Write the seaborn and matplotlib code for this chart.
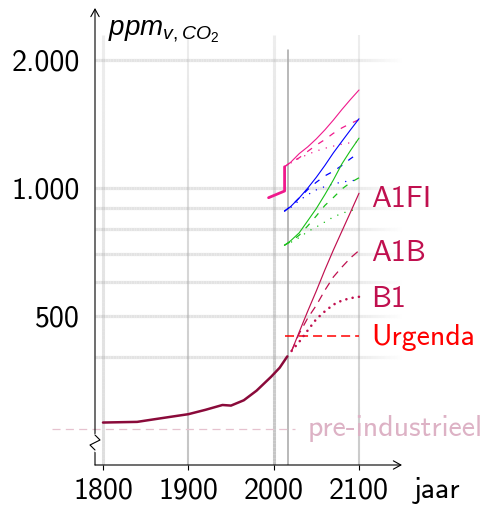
import numpy as np
import matplotlib
matplotlib.use("Agg")
import matplotlib.pyplot as plt
import seaborn as sns
from matplotlib.collections import LineCollection
from matplotlib.colors import to_rgba
from matplotlib.lines import Line2D
from matplotlib.ticker import NullLocator

sns.set_theme(style="white")
plt.rcParams["font.family"] = ["cmss10", "DejaVu Sans"]
plt.rcParams["mathtext.fontset"] = "custom"
plt.rcParams["mathtext.it"] = "Liberation Sans:italic"
plt.rcParams["mathtext.rm"] = "Liberation Sans"
plt.rcParams["lines.scale_dashes"] = False
plt.rcParams["axes.unicode_minus"] = False

# --- measured CO2 concentration (ppm) ---
hist_years = [1800, 1840, 1860, 1880, 1900, 1920, 1940, 1950, 1965, 1980, 1997, 2007, 2016]
hist_ppm = [281, 282, 286, 290, 294, 301, 309, 308, 317, 334, 360, 378, 402]

# --- IPCC SRES scenarios, CO2 only ---
proj_years = [2021, 2030, 2040, 2050, 2060, 2070, 2080, 2090, 2100]
a1fi_ppm = [414, 459, 514, 573, 642, 715, 792, 877, 972]
a1b_ppm = [414, 455, 495, 530, 575, 618, 652, 685, 713]
b1_ppm = [414, 435, 463, 492, 513, 532, 544, 551, 555]

# --- upper bundle (pink, blue, green): same scenarios, other totals ---
pink_hist_years = [1994, 2012.8, 2012.8]
pink_hist_ppm = [949, 984, 1122]

up_years = [2012.8, 2020, 2030, 2040, 2050, 2060, 2070, 2080, 2090, 2100]
pink_a1fi = [1122, 1150, 1205, 1250, 1305, 1370, 1445, 1530, 1615, 1700]
pink_a1b = [1122, 1150, 1178, 1220, 1262, 1300, 1345, 1385, 1418, 1448]
pink_b1 = [1122, 1145, 1175, 1200, 1222, 1240, 1255, 1268, 1278, 1285]

blue_a1fi = [883, 905, 948, 1000, 1060, 1130, 1210, 1288, 1370, 1455]
blue_a1b = [883, 905, 948, 992, 1032, 1068, 1095, 1130, 1172, 1210]
blue_b1 = [883, 900, 935, 965, 990, 1008, 1022, 1033, 1040, 1045]

green_a1fi = [734, 752, 785, 838, 895, 965, 1045, 1140, 1225, 1310]
green_a1b = [734, 748, 775, 815, 860, 910, 950, 995, 1030, 1057]
green_b1 = [734, 745, 765, 790, 810, 832, 855, 872, 885, 893]

# --- reference levels ---
urgenda_years = [2012.8, 2100]
urgenda_ppm = [450, 450]
preind_years = [1740, 2025]
preind_ppm = [272, 272]
now_year = 2016.7

y_ticks = [500, 1000, 2000]
y_ticklabels = ["500", "1.000", "2.000"]
x_ticks = [1800, 1900, 2000, 2100]
grid_levels = [400, 500, 600, 700, 800, 900, 1000, 2000]

CRIMSON = "#c0104f"
HIST = "#8a0a3a"
PINK = "#f0198c"
BLUE = "#0000ff"
GREEN = "#18c018"
RED = "#ff0000"
PREIND = "#e6c2cf"
PREIND_TXT = "#ddb2c5"
FS = 21.5

fig = plt.figure(figsize=(4.9, 5.05), dpi=100)
ax = fig.add_axes([95 / 490, 40 / 505, 307 / 490, 457 / 505])
ax.set_yscale("log")
XMIN, XMAX = 1790.625, 2150.39
YMIN, YMAX = 223.3, 2650
ax.set_xlim(XMIN, XMAX)
ax.set_ylim(YMIN, YMAX)
for s in ax.spines.values():
    s.set_visible(False)


def gradient_line(xs, ys, color, lw, alphas, z=0.5):
    pts = np.column_stack([xs, ys])
    segs = np.stack([pts[:-1], pts[1:]], axis=1)
    rgb = to_rgba(color)[:3]
    a = 0.5 * (np.asarray(alphas)[:-1] + np.asarray(alphas)[1:])
    cols = [(*rgb, float(v)) for v in a]
    ax.add_collection(LineCollection(segs, colors=cols, linewidths=lw,
                                     zorder=z, capstyle="butt"))


# horizontal grid, fading out to the right
gx = np.linspace(XMIN, 2150, 120)
galpha = np.clip((2150 - gx) / (2150 - 2080), 0, 1)
for lvl in grid_levels:
    gradient_line(gx, np.full_like(gx, lvl, dtype=float), "#e3e3e3", 2.3, galpha)

# vertical grid, fading out towards the top
vy = np.geomspace(YMIN, 2290, 120)
vt = np.linspace(0, 1, 120)
for yr, lw, a0 in [(1800, 2.2, 0.35), (1900, 1.5, 0.62), (2000, 2.2, 0.62), (2100, 1.5, 0.55)]:
    gradient_line(np.full_like(vy, yr), vy, "#a0a0a0", lw, a0 + (0.18 - a0) * vt)

ax.plot([now_year, now_year], [YMIN, 2112], color="#a6a6a6", lw=1.1, zorder=0.6)

# pre-industrial level
sns.lineplot(x=preind_years, y=preind_ppm, ax=ax, color=PREIND, lw=0.9,
             linestyle=(0, (5.8, 3.8)), clip_on=False, estimator=None, sort=False)
ax.annotate("pre-industrieel", xy=(preind_years[-1], preind_ppm[-1]),
            xytext=(9.0, -5.6), textcoords="offset points", ha="left",
            va="baseline", fontsize=FS, color=PREIND_TXT, annotation_clip=False)

# Urgenda target
sns.lineplot(x=urgenda_years, y=urgenda_ppm, ax=ax, color=RED, lw=1.1,
             linestyle=(0, (6.5, 3.6)), estimator=None, sort=False)

# upper bundle
sns.lineplot(x=pink_hist_years, y=pink_hist_ppm, ax=ax, color=PINK, lw=2.0,
             estimator=None, sort=False)
for col, s_fi, s_b, s_1 in [(PINK, pink_a1fi, pink_a1b, pink_b1),
                            (BLUE, blue_a1fi, blue_a1b, blue_b1),
                            (GREEN, green_a1fi, green_a1b, green_b1)]:
    sns.lineplot(x=up_years, y=s_fi, ax=ax, color=col, lw=0.8,
                 estimator=None, sort=False)
    sns.lineplot(x=up_years, y=s_b, ax=ax, color=col, lw=0.9,
                 linestyle=(0, (4.3, 5.5)), estimator=None, sort=False)
    sns.lineplot(x=up_years, y=s_1, ax=ax, color=col, lw=1.1,
                 linestyle=(0, (0.01, 5.5)), dash_capstyle="round",
                 estimator=None, sort=False)

# CO2 scenarios
sns.lineplot(x=proj_years, y=a1fi_ppm, ax=ax, color=CRIMSON, lw=0.85,
             estimator=None, sort=False)
sns.lineplot(x=proj_years, y=a1b_ppm, ax=ax, color=CRIMSON, lw=0.9,
             linestyle=(0, (5.8, 4.3)), estimator=None, sort=False)
sns.lineplot(x=proj_years, y=b1_ppm, ax=ax, color=CRIMSON, lw=1.9,
             linestyle=(0, (0.01, 4.6)), dash_capstyle="round",
             estimator=None, sort=False)

# measured history
sns.lineplot(x=hist_years, y=hist_ppm, ax=ax, color=HIST, lw=1.8,
             estimator=None, sort=False)

# scenario labels
for name, val, dy, col in [("A1FI", a1fi_ppm[-1], -10.1, CRIMSON),
                           ("A1B", a1b_ppm[-1], -7.9, CRIMSON),
                           ("B1", b1_ppm[-1], -7.4, CRIMSON),
                           ("Urgenda", urgenda_ppm[-1], -6.5, RED)]:
    ax.annotate(name, xy=(2100, val), xytext=(8.6, dy), textcoords="offset points",
                ha="left", va="baseline", fontsize=FS, color=col,
                annotation_clip=False)

# axes with arrow heads
arrow = dict(arrowstyle="->,head_length=0.45,head_width=0.25", lw=0.8,
             color="black", shrinkA=0, shrinkB=0)
ax.annotate("", xy=(0, 1), xytext=(0, 0), xycoords="axes fraction",
            arrowprops=arrow, annotation_clip=False)
ax.annotate("", xy=(1, 0), xytext=(0, 0), xycoords="axes fraction",
            arrowprops=arrow, annotation_clip=False)

# ticks
ax.set_xticks(x_ticks)
ax.set_xticklabels([str(t) for t in x_ticks])
ax.set_yticks(y_ticks)
ax.set_yticklabels(y_ticklabels)
ax.yaxis.set_minor_locator(NullLocator())
ax.xaxis.set_minor_locator(NullLocator())
ax.tick_params(axis="x", bottom=True, direction="out", length=3.6, width=0.8,
               pad=5.4, labelsize=FS, colors="black")
ax.tick_params(axis="y", left=True, length=0, pad=10.8, labelsize=FS,
               colors="black")
ax.set_xlabel("")
ax.set_ylabel("")


# axis break on the y axis
def px(x, y):
    return x / 490, 1 - y / 505


gap = [px(95, 435), px(95, 450)]
fig.add_artist(Line2D([p[0] for p in gap], [p[1] for p in gap], color="white",
                      lw=2.5, zorder=5))
zig = [px(95, 435), px(100, 440), px(90, 445), px(95, 450)]
fig.add_artist(Line2D([p[0] for p in zig], [p[1] for p in zig], color="black",
                      lw=0.8, zorder=6))

fig.text(108 / 490, 1 - 35 / 505, r"$ppm_{v,CO_2}$", ha="left", va="baseline",
         fontsize=20, color="black")
fig.text(437 / 490, 1 - 498.5 / 505, "jaar", ha="center", va="baseline",
         fontsize=FS, color="black")

fig.savefig("out.png", dpi=100)
